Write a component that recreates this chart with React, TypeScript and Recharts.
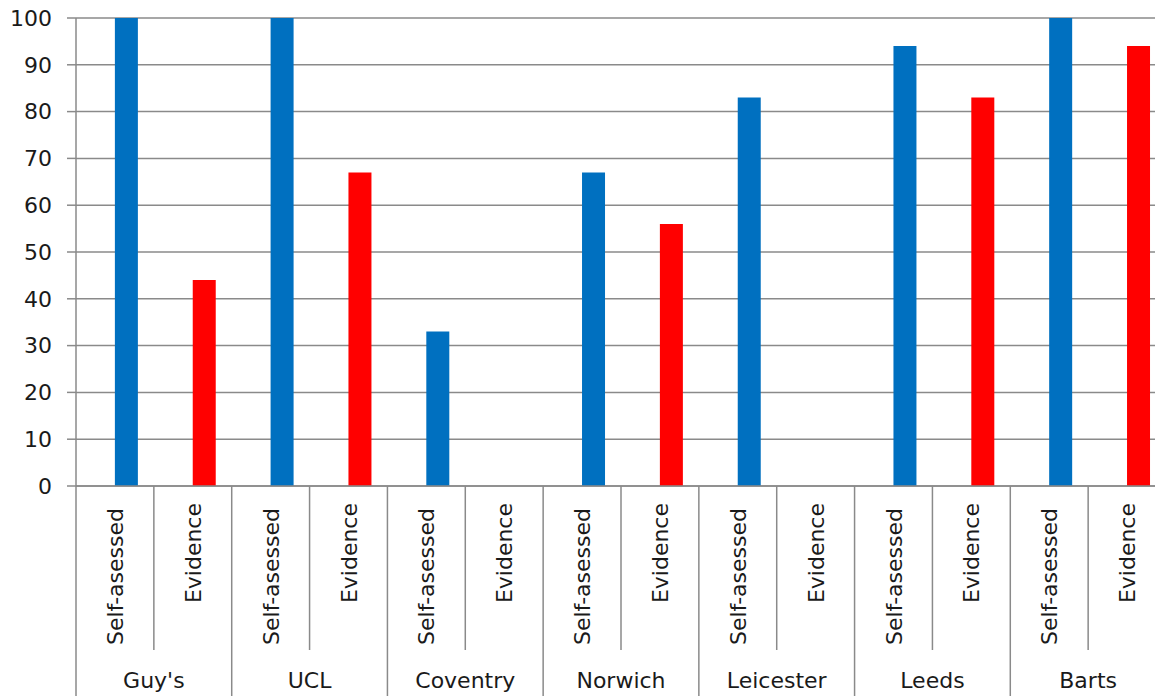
import React from "react";
import { BarChart, Bar, XAxis, YAxis, CartesianGrid, Cell } from "recharts";

const groups = ["Guy's", "UCL", "Coventry", "Norwich", "Leicester", "Leeds", "Barts"];
const typeLabels = ["Self-asessed", "Evidence"];
const selfAssessed = [100, 100, 33, 67, 83, 94, 100];
const evidence: (number | null)[] = [44, 67, null, 56, null, 83, 94];
const yTicks = [0, 10, 20, 30, 40, 50, 60, 70, 80, 90, 100];

const COLORS = ["#0070C0", "#FF0000"];
const GRID = "#8a8a8a";
const TEXT = "#1a1a1a";
const FONT = "'DejaVu Sans', sans-serif";
const FS = 22;

const CHART_W = 1166;
const CHART_H = 696;
const Y_W = 76;
const BAND = (CHART_W - Y_W) / (groups.length * typeLabels.length);

const data = groups.flatMap((g, i) => [
  { key: `${g}-s`, group: g, type: 0, label: typeLabels[0], spacer: null, value: selfAssessed[i] },
  { key: `${g}-e`, group: g, type: 1, label: typeLabels[1], spacer: null, value: evidence[i] },
]);

function CatTick(props: any) {
  const { x, y, index } = props;
  const d = data[index];
  if (!d) return null;
  const half = BAND / 2;
  const last = index === data.length - 1;
  return (
    <g>
      <line x1={x - half} x2={x - half} y1={y} y2={d.type === 0 ? CHART_H : y + 164} stroke={GRID} strokeWidth={1.5} />
      {last && <line x1={x + half} x2={x + half} y1={y} y2={CHART_H} stroke={GRID} strokeWidth={1.5} />}
      <text
        transform={`translate(${x + 8},${y + (d.type === 0 ? 22 : 17)}) rotate(-90)`}
        textAnchor="end"
        fontSize={FS}
        fontFamily={FONT}
        fill={TEXT}
      >
        {d.label}
      </text>
      {d.type === 0 && (
        <text x={x + half} y={y + 202} textAnchor="middle" fontSize={FS} fontFamily={FONT} fill={TEXT}>
          {d.group}
        </text>
      )}
    </g>
  );
}

export default function App() {
  return (
    <div style={{ position: "absolute", left: 0, top: 0, width: 1155, height: 696, overflow: "hidden", background: "#fff" }}>
      <BarChart
        width={CHART_W}
        height={CHART_H}
        data={data}
        margin={{ top: 18, right: 0, left: 0, bottom: 0 }}
        barGap={0}
        barCategoryGap="20.4%"
      >
        <CartesianGrid vertical={false} stroke={GRID} strokeWidth={1.5} />
        <XAxis
          dataKey="key"
          interval={0}
          height={210}
          tickLine={false}
          tickSize={0}
          tickMargin={0}
          axisLine={{ stroke: GRID, strokeWidth: 1.5 }}
          tick={(p: any) => <CatTick {...p} />}
        />
        <YAxis
          width={Y_W}
          domain={[0, 100]}
          ticks={yTicks}
          interval={0}
          tickSize={9}
          tickMargin={15}
          tickLine={{ stroke: GRID, strokeWidth: 1.5 }}
          axisLine={{ stroke: GRID, strokeWidth: 1.5 }}
          tick={{ fontSize: FS, fontFamily: FONT, fill: TEXT }}
        />
        <Bar dataKey="spacer" isAnimationActive={false} fill="transparent" />
        <Bar dataKey="value" isAnimationActive={false}>
          {data.map((d) => (
            <Cell key={d.key} fill={COLORS[d.type]} />
          ))}
        </Bar>
      </BarChart>
    </div>
  );
}
